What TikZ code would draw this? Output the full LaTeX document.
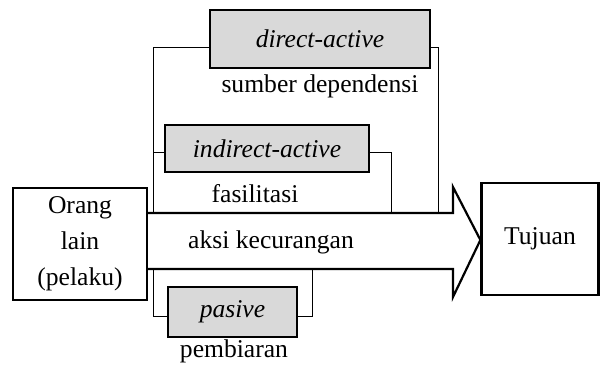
\documentclass[tikz,border=0pt]{standalone}
\usepackage{fontspec}
\setmainfont{Liberation Serif}
\usetikzlibrary{positioning,calc}

\begin{document}
\begin{tikzpicture}[
  x=0.5pt, y=-0.5pt,
  every node/.style={font=\fontsize{12.8}{15}\selectfont},
  mainbox/.style={rectangle, draw, line width=1.1pt, align=center, inner sep=0pt},
  graybox/.style={rectangle, draw, line width=0.7pt, fill=gray!30, inner sep=0pt, font=\fontsize{12.8}{15}\selectfont\itshape},
  label/.style={inner sep=0pt},
  bracket/.style={line width=0.5pt},
  bigarrow/.style={line width=1.1pt, line join=miter}
]
\useasboundingbox (0,0) rectangle (601,365);

\node[mainbox, minimum width=67pt, minimum height=56pt,
  font=\fontsize{12.8}{18}\selectfont] (orang) at (80,244) {Orang\\lain\\(pelaku)};
\node[mainbox, minimum width=58.5pt, minimum height=56pt] (tujuan) at (540,239) {Tujuan};

% panah aksi
\draw[bigarrow] (orang.east |- 0,213) -- (453,213) -- (453,187) -- (tujuan.west |- 0,240)
  -- (453,297) -- (453,269) -- (orang.east |- 0,269);
\node[label] (aksi) at (271,242) {aksi kecurangan};

\coordinate (s1) at (153,213);
\coordinate (s3) at (391,213);
\coordinate (s4) at (438,213);
\coordinate (b1) at (153,269);
\coordinate (b2) at (312,269);

\node[graybox, minimum width=110pt, minimum height=29pt] (direct) at (320,39) {direct-active};
\node[label, below=3pt of direct] (sumber) {sumber dependensi};
\node[graybox, minimum width=102pt, minimum height=23.5pt] (indirect) at (267,148.5) {indirect-active};
\node[label] (fasil) at (255,194) {fasilitasi};
\node[graybox, minimum width=64.5pt, minimum height=25pt] (pasive) at (232.5,312) {pasive};
\node[label] (pembiaran) at (234,351) {pembiaran};

\draw[bracket] ([yshift=-4pt]direct.west) -| (s1);
\draw[bracket] ([yshift=-4pt]direct.east) -| (s4);
\draw[bracket] ([yshift=-2pt]indirect.west) -| (s1);
\draw[bracket] ([yshift=-2pt]indirect.east) -| (s3);
\draw[bracket] ([yshift=-2pt]pasive.west) -| (b1);
\draw[bracket] ([yshift=-2pt]pasive.east) -| (b2);

\end{tikzpicture}
\end{document}
